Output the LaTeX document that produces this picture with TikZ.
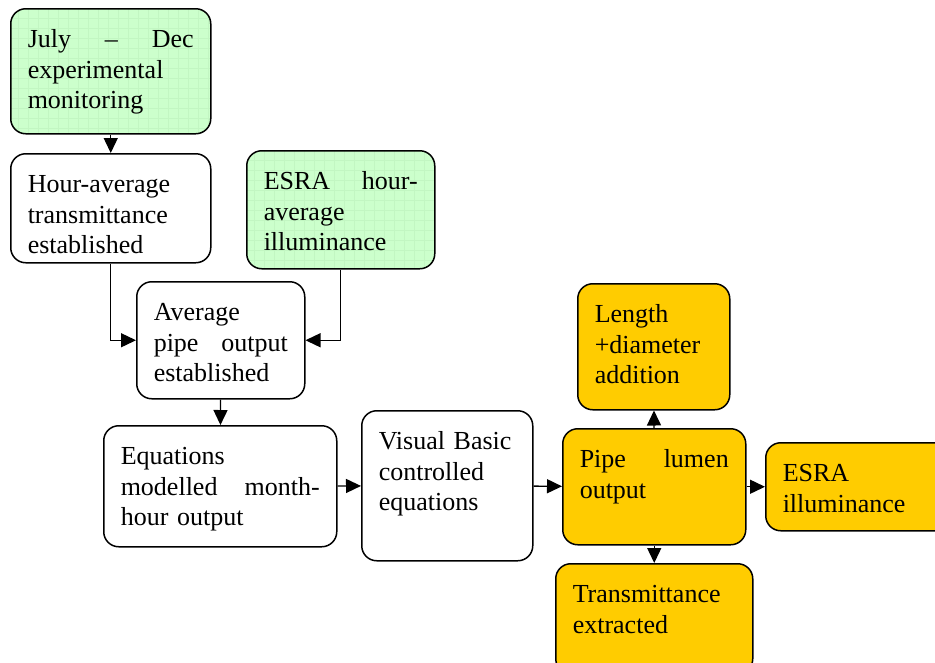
\documentclass[tikz,border=0pt]{standalone}
\usepackage{fontspec}
\setmainfont{Liberation Serif}
\usetikzlibrary{arrows.meta}

\definecolor{boxgreen}{RGB}{204,255,204}
\definecolor{gridgreen}{RGB}{194,246,194}
\definecolor{boxorange}{RGB}{255,204,0}

\begin{document}
\begin{tikzpicture}[x=1pt,y=-1pt]
\tikzstyle{every node}=[font=\fontsize{26}{30.5}\selectfont]
\tikzstyle{box}=[draw,line width=1.5pt,rounded corners=15pt,anchor=north west,
  align=left,inner xsep=17pt,inner ysep=0pt,text height=39pt]
\tikzstyle{greenbox}=[box,fill=boxgreen,path picture={
  \draw[gridgreen,line width=0.4pt] (path picture bounding box.south west)
    grid[step=10pt] (path picture bounding box.north east);}]
\tikzstyle{orangebox}=[box,fill=boxorange]
\tikzstyle{arr}=[line width=1.4pt,-{Triangle[length=15pt,width=14pt]}]
\useasboundingbox (0,0) rectangle (935,662);
\clip (0,0) rectangle (935,662);
% left column
\node[greenbox,text width=166pt,text depth=86pt] (july) at (10,8)
  {July \hfill -- \hfill Dec\\ experimental\\ monitoring};
\node[box,text width=166pt,text depth=70pt] (hour) at (10,153)
  {Hour-average\\ transmittance\\ established};
\node[greenbox,text width=154pt,text depth=79pt] (esrahr) at (246,150)
  {ESRA\hfill hour-\\ average\\ illuminance};
\node[box,text width=134pt,text depth=78pt] (avg) at (136,281)
  {Average\\ pipe\hfill output\\ established};
\node[box,text width=199pt,text depth=82pt] (eqn) at (103,425)
  {Equations\\ modelled\hfill month-\\ hour output};
\node[box,text width=137pt,text depth=111pt] (vb) at (361,410)
  {Visual Basic\\ controlled\\ equations};
% outputs
\node[orangebox,text width=149pt,text depth=77pt] (pipe) at (562,428)
  {Pipe\hfill lumen\\ output};
\node[orangebox,text width=118pt,text depth=87pt] (len) at (577,283)
  {Length\\ +diameter\\ addition};
\node[orangebox,text width=151pt,text depth=49pt] (esra) at (765,442)
  {ESRA\\ illuminance};
\node[orangebox,text width=163pt,text depth=71pt] (trans) at (555,563)
  {Transmittance\\ extracted};
% connectors
\draw[arr] (july) -- (hour);
\draw[arr] (hour.south) |- (avg.west);
\draw[arr] (esrahr.south) |- (avg.east);
\draw[arr] (avg) -- (eqn);
\draw[arr] (eqn) -- (vb);
\draw[arr] (vb) -- (pipe);
\draw[arr] (pipe) -- (len);
\draw[arr] (pipe) -- (esra);
\draw[arr] (pipe) -- (trans);
\end{tikzpicture}
\end{document}
